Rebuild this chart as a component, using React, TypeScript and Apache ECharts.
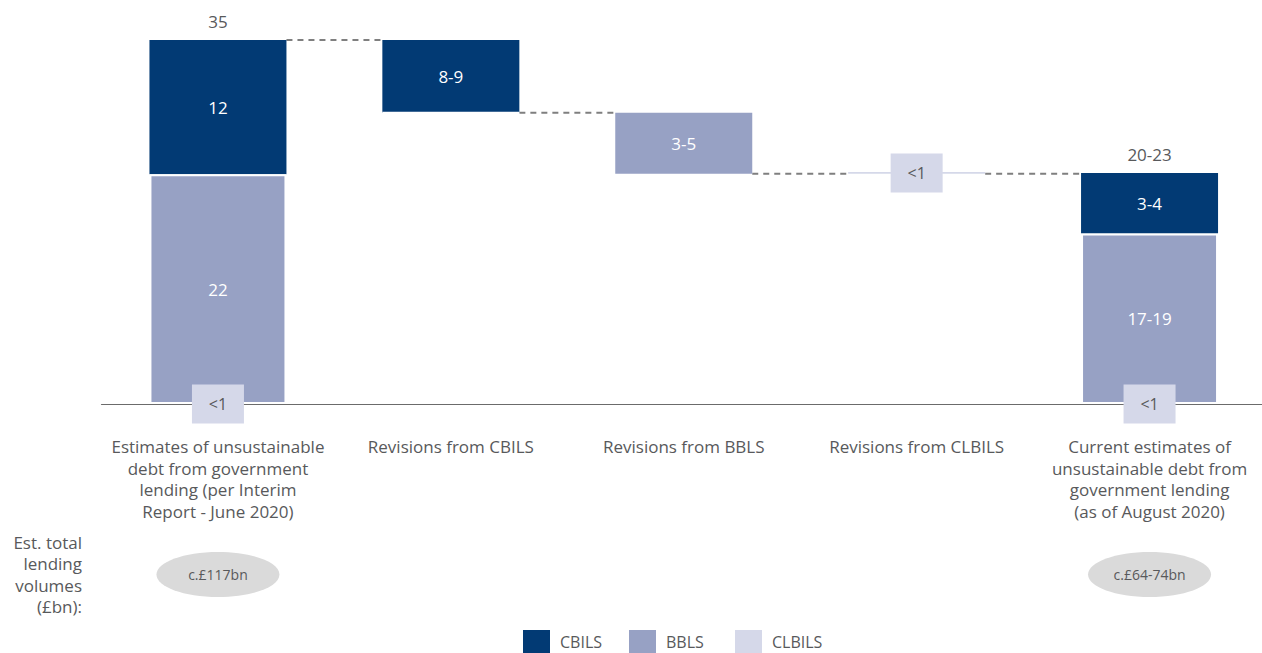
import React, { useEffect, useRef } from "react";
import * as echarts from "echarts";

const FONT = '"Open Sans", "Noto Sans", sans-serif';
const TEXT = "#58595b";
const C_CBILS = "#023a74";
const C_BBLS = "#97a1c4";
const C_CLBILS = "#d5d8e9";

const CATEGORIES = [
  "Estimates of unsustainable\ndebt from government\nlending (per Interim\nReport - June 2020)",
  "Revisions from CBILS",
  "Revisions from BBLS",
  "Revisions from CLBILS",
  "Current estimates of\nunsustainable debt from\ngovernment lending\n(as of August 2020)",
];
const BASE = [0, 28, 22.15, 22.15, 0];
const BBLS = [22.1, 0, 5.85, 0, 16.4];
const CBILS = [12.9, 7, 0, 0, 5.8];
const CLBILS_LINE = [0, 0, 0, 0.15, 0];
const CLBILS_MARK = [0, null, null, 22.2, 0];
const BBLS_LABELS = ["22", "", "3-5", "", "17-19"];
const CBILS_LABELS = ["12", "8-9", "", "", "3-4"];
const CLBILS_LABELS = ["<1", "", "", "<1", "<1"];
const TOTALS = [35, null, null, null, 22.2];
const TOTAL_LABELS = ["35", "", "", "", "20-23"];
const CONNECTORS = [35, 28, 22.15, 22.15];
const LENDING_LABELS = ["c.£117bn", "", "", "", "c.£64-74bn"];
const LEFT_NOTE = "Est. total\nlending\nvolumes\n(£bn):";
const LEGEND_NAMES = ["CBILS", "BBLS", "CLBILS"];
const LEGEND_LEFT = [523, 629, 735];

const HALF_BAR = 68.5;

export default function App() {
  const ref = useRef<HTMLDivElement>(null);
  useEffect(() => {
    document.body.style.margin = "0";
    const chart = echarts.init(ref.current!, null, { renderer: "svg" });
    const option: any = {
      animation: false,
      grid: {
        left: 101.5,
        width: 1164.5,
        top: 40,
        bottom: 249,
        outerBoundsMode: "none",
        containLabel: false,
      },
      xAxis: {
        type: "category",
        data: CATEGORIES,
        z: 3,
        axisLine: { lineStyle: { color: "#6b6b6b", width: 1.2 } },
        axisTick: { show: false },
        axisLabel: {
          interval: 0,
          margin: 32,
          color: TEXT,
          fontSize: 17,
          lineHeight: 21.5,
          fontFamily: FONT,
        },
      },
      yAxis: { type: "value", min: 0, max: 35, show: false },
      legend: LEGEND_NAMES.map((n, i) => ({
        data: [{ name: n, icon: "rect" }],
        left: LEGEND_LEFT[i],
        top: 630,
        padding: 0,
        itemWidth: 27,
        itemHeight: 23,
        selectedMode: false,
        textStyle: { color: TEXT, fontSize: 16, fontFamily: FONT, padding: [0, 0, 0, 5] },
      })),
      series: [
        {
          name: "base",
          type: "bar",
          stack: "w",
          barWidth: 137,
          data: BASE,
          itemStyle: { color: "transparent" },
          silent: true,
        },
        {
          name: "BBLS",
          type: "bar",
          stack: "w",
          barWidth: 137,
          z: 3,
          data: BBLS.map((v, i) => ({
            value: v,
            itemStyle: CBILS[i] > 0 ? { borderColor: "#fff", borderWidth: 2 } : {},
          })),
          itemStyle: { color: C_BBLS },
          label: {
            show: true,
            position: "inside",
            color: "#fff",
            fontSize: 17,
            fontFamily: FONT,
            formatter: (p: any) => BBLS_LABELS[p.dataIndex],
          },
        },
        {
          name: "CBILS",
          type: "bar",
          stack: "w",
          barWidth: 137,
          data: CBILS,
          itemStyle: { color: C_CBILS },
          label: {
            show: true,
            position: "inside",
            color: "#fff",
            fontSize: 17,
            fontFamily: FONT,
            formatter: (p: any) => CBILS_LABELS[p.dataIndex],
          },
        },
        {
          name: "CLBILS",
          type: "bar",
          stack: "w",
          barWidth: 137,
          data: CLBILS_LINE,
          itemStyle: { color: C_CLBILS },
        },
        {
          name: "CLBILS",
          type: "scatter",
          clip: false,
          z: 5,
          symbol: "rect",
          symbolSize: [52, 39],
          data: CLBILS_MARK.map((v, i) => (v === null ? null : [i, v])).filter((d) => d !== null),
          itemStyle: { color: C_CLBILS, opacity: 1 },
          label: {
            show: true,
            position: "inside",
            color: TEXT,
            fontSize: 16,
            fontFamily: FONT,
            formatter: (p: any) => CLBILS_LABELS[p.data[0]],
          },
        },
        {
          name: "connectors",
          type: "custom",
          z: 1,
          silent: true,
          data: CONNECTORS.map((v, i) => [i, v]),
          renderItem: (params: any, api: any) => {
            const i = api.value(0);
            const v = api.value(1);
            const a = api.coord([i, v]);
            const b = api.coord([i + 1, v]);
            return {
              type: "line",
              shape: { x1: a[0] + HALF_BAR, y1: a[1], x2: b[0] - HALF_BAR, y2: b[1] },
              style: { stroke: "#7f7f7f", lineWidth: 2, lineDash: [6, 5] },
            };
          },
        },
        {
          name: "totals",
          type: "custom",
          silent: true,
          data: TOTALS.map((v, i) => (v === null ? null : [i, v])).filter((d) => d !== null),
          renderItem: (params: any, api: any) => {
            const i = api.value(0);
            const p = api.coord([i, api.value(1)]);
            return {
              type: "text",
              x: p[0],
              y: p[1] - 10,
              style: {
                text: TOTAL_LABELS[i],
                align: "center",
                verticalAlign: "bottom",
                fill: TEXT,
                fontSize: 17,
                fontFamily: FONT,
              },
            };
          },
        },
      ],
    };
    chart.setOption(option);

    const graphics: any[] = [
      {
        type: "text",
        x: 82,
        y: 532,
        style: {
          text: LEFT_NOTE,
          align: "right",
          verticalAlign: "top",
          lineHeight: 21.3,
          fontSize: 17,
          fill: TEXT,
          fontFamily: FONT,
        },
      },
    ];
    LENDING_LABELS.forEach((t, i) => {
      if (!t) return;
      const cx = chart.convertToPixel({ xAxisIndex: 0 }, i) as number;
      graphics.push({
        type: "ellipse",
        shape: { cx, cy: 574.5, rx: 61.5, ry: 22.5 },
        style: { fill: "#dadada" },
      });
      graphics.push({
        type: "text",
        x: cx,
        y: 574.5,
        style: {
          text: t,
          align: "center",
          verticalAlign: "middle",
          fontSize: 14,
          fill: TEXT,
          fontFamily: FONT,
        },
      });
    });
    chart.setOption({ graphic: graphics });

    return () => chart.dispose();
  }, []);
  return <div ref={ref} style={{ width: 1262, height: 653 }} />;
}
